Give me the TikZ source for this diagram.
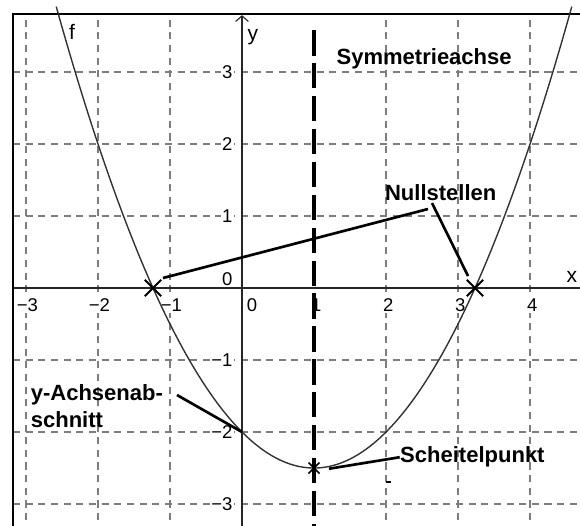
\documentclass[tikz,border=0pt]{standalone}
\usepackage{fontspec}
\setmainfont{Liberation Sans}
\usetikzlibrary{arrows.meta,shapes.misc}
\definecolor{gridgray}{RGB}{125,125,125}
\definecolor{curvegray}{RGB}{50,50,50}
\newcommand{\mns}{\char"2212\relax}
\tikzset{
  gridline/.style={gridgray, line width=0.45pt, dash pattern=on 2.8pt off 2.2pt},
  axisline/.style={black!85, line width=0.45pt},
  frameline/.style={black, line width=0.8pt},
  curve/.style={curvegray, line width=0.55pt},
  symaxis/.style={black, line width=1.25pt, dash pattern=on 10pt off 3pt},
  pointer/.style={black, line width=1.05pt},
  numlbl/.style={font=\fontsize{7.3}{8.5}\selectfont, inner sep=0.6pt, fill=white},
  axlbl/.style={font=\fontsize{8.3}{9.5}\selectfont, inner sep=0pt},
  biglbl/.style={font=\fontsize{8.7}{10.6}\selectfont\bfseries, inner sep=0pt},
  rootmark/.style={cross out, draw, black, line width=0.8pt, minimum size=0.2cm, inner sep=0pt},
  vertmark/.style={cross out, draw, black, line width=0.65pt, minimum size=0.13cm, inner sep=0pt}
}
\begin{document}
\begin{tikzpicture}
\useasboundingbox (-3.361,-3.292) rectangle (4.694,4.0);
\clip (-3.361,-3.292) rectangle (4.694,4.0);
% grid
\foreach \k in {-3,-2,-1,2,3,4} \draw[gridline] (\k,-3.4) -- (\k,3.806);
\foreach \k in {-3,-2,-1,1,2,3} \draw[gridline] (-3.18,\k) -- (4.8,\k);
% axes labels (numbers)
\foreach \k in {3,2,1} \node[numlbl] (xlm\k) at (-\k+0.02,-0.236) {\mns\k};
\node[numlbl] (xl0) at (0.14,-0.236) {0};
\foreach \k in {1,2,3,4} \node[numlbl] (xl\k) at (\k+0.03,-0.236) {\k};
\foreach \k in {1,2,3} \node[numlbl, anchor=east] (yl\k) at (-0.105,\k) {\k};
\foreach \k in {1,2,3} \node[numlbl, anchor=east] (ylm\k) at (-0.105,-\k) {\mns\k};
\node[numlbl, anchor=east] (yl0) at (-0.105,0.12) {0};
\node[axlbl] (xlab) at (4.58,0.15) {x};
\node[axlbl] (ylab) at (0.15,3.48) {y};
% axes
\draw[axisline] (-3.18,0) -- (4.8,0);
\draw[axisline, -{Straight Barb[length=2.2pt,width=5pt,line width=0.45pt]}] (0,-3.4) -- (0,3.79);
% frame
\draw[frameline] (-3.18,-3.4) -- (-3.18,3.806) -- (4.8,3.806);
% symmetry axis
\draw[symaxis] (1,3.58) -- (1,-3.4);
% parabola
\draw[curve, domain=-2.58:4.58, samples=120, smooth] plot (\x,{0.5*\x*\x-\x-2});
\node[axlbl] (flab) at (-2.36,3.56) {f};
% special points
\coordinate (r1) at (-1.236,0);
\coordinate (r2) at (3.236,0);
\coordinate (yi) at (0,-2);
\coordinate (v) at (1,-2.5);
\node[rootmark] (m1) at (r1) {};
\node[rootmark] (m2) at (r2) {};
\node[vertmark] (mv) at (v) {};
% labels
\node[biglbl] (sym) at (2.53,3.19) {Symmetrieachse};
\node[biglbl] (null) at (2.76,1.32) {Nullstellen};
\node[biglbl, anchor=west, align=left] (ya) at (-2.94,-1.645) {y-Achsenab-\\schnitt};
\node[biglbl, anchor=west] (sp) at (2.19,-2.35) {Scheitelpunkt};
% pointers
\coordinate (n1a) at (2.583,1.097);
\coordinate (n1b) at (-1.097,0.139);
\coordinate (n2a) at (2.639,1.18);
\coordinate (n2b) at (3.139,0.167);
\coordinate (ya1) at (-0.903,-1.486);
\coordinate (sp1) at (1.208,-2.51);
\draw[pointer] (n1a) -- (n1b);
\draw[pointer] (n2a) -- (n2b);
\draw[pointer] (ya1) -- (yi);
\draw[pointer] (sp.west) -- (sp1);
% small stray mark
\coordinate (dm) at (2.04,-2.69);
\draw[black, line width=0.9pt] ([xshift=-1pt]dm) -- ([xshift=1pt]dm);
\end{tikzpicture}
\end{document}
